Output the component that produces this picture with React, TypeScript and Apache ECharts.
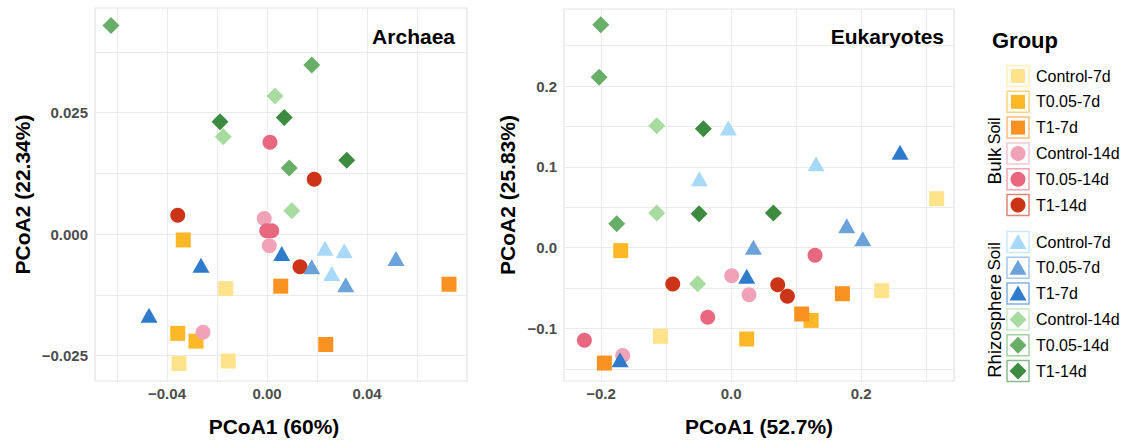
import React, { useEffect, useRef } from "react";
import * as echarts from "echarts";

const FONT = "'Liberation Sans', Arial, Helvetica, sans-serif";

// ---- groups ----
const groupLabels = ["Control-7d", "T0.05-7d", "T1-7d", "Control-14d", "T0.05-14d", "T1-14d"];
const bulkColors = ["#FEE38B", "#FDB827", "#FA9222", "#F0A3B7", "#E8697F", "#CC3418"];
const rhizoColors = ["#A9D9F8", "#6BA2DA", "#2E7BCB", "#A8DBA0", "#68AE68", "#3D8B40"];
const bulkShapes = ["rect", "rect", "rect", "circle", "circle", "circle"];
const rhizoShapes = ["triangle", "triangle", "triangle", "diamond", "diamond", "diamond"];

// ---- Archaea (PCoA1, PCoA2) ----
const archaeaBulkControl7d = [[-0.0165, -0.0112], [-0.0352, -0.0266], [-0.0155, -0.0261]];
const archaeaBulkT005_7d = [[-0.0335, -0.0012], [-0.0357, -0.0204], [-0.0284, -0.022]];
const archaeaBulkT1_7d = [[0.0728, -0.0103], [0.0055, -0.0107], [0.0235, -0.0227]];
const archaeaBulkControl14d = [[-0.0011, 0.0032], [0.0009, -0.0024], [-0.0256, -0.0202]];
const archaeaBulkT005_14d = [[0.0012, 0.0189], [-0.0001, 0.0007], [0.0019, 0.0007]];
const archaeaBulkT1_14d = [[-0.0357, 0.0039], [0.0189, 0.0113], [0.0132, -0.0067]];
const archaeaRhizoControl7d = [[0.0232, -0.0029], [0.0309, -0.0034], [0.0259, -0.0081]];
const archaeaRhizoT005_7d = [[0.0179, -0.0067], [0.0315, -0.0104], [0.0516, -0.005]];
const archaeaRhizoT1_7d = [[0.0059, -0.004], [-0.0264, -0.0064], [-0.0472, -0.0167]];
const archaeaRhizoControl14d = [[0.0032, 0.0284], [-0.0175, 0.02], [0.0099, 0.0048]];
const archaeaRhizoT005_14d = [[-0.0624, 0.0429], [0.0179, 0.0348], [0.0089, 0.0136]];
const archaeaRhizoT1_14d = [[-0.0188, 0.0231], [0.0069, 0.024], [0.0319, 0.0152]];

// ---- Eukaryotes (PCoA1, PCoA2) ----
const eukBulkControl7d = [[0.3164, 0.0606], [0.2318, -0.0532], [-0.1087, -0.1097]];
const eukBulkT005_7d = [[-0.1697, -0.0037], [0.1231, -0.09], [0.0241, -0.113]];
const eukBulkT1_7d = [[0.1713, -0.057], [0.1087, -0.0821], [-0.1949, -0.1428]];
const eukBulkControl14d = [[0.001, -0.0347], [0.0277, -0.0582], [-0.1667, -0.1333]];
const eukBulkT005_14d = [[0.1292, -0.0095], [-0.0359, -0.0862], [-0.2256, -0.1147]];
const eukBulkT1_14d = [[-0.0897, -0.045], [0.0718, -0.0458], [0.0867, -0.0602]];
const eukRhizoControl7d = [[-0.0042, 0.148], [-0.0488, 0.0854], [0.1308, 0.104]];
const eukRhizoT005_7d = [[0.178, 0.0272], [0.2026, 0.0111], [0.0344, 0.0004]];
const eukRhizoT1_7d = [[0.26, 0.118], [0.0241, -0.0355], [-0.1708, -0.1386]];
const eukRhizoControl14d = [[-0.1143, 0.151], [-0.1143, 0.0429], [-0.0513, -0.0446]];
const eukRhizoT005_14d = [[-0.2005, 0.276], [-0.203, 0.2108], [-0.1759, 0.0297]];
const eukRhizoT1_14d = [[-0.0426, 0.1473], [-0.0492, 0.042], [0.0651, 0.0429]];

// ---- axes / ticks ----
const archaeaXRange = [-0.0688, 0.08];
const archaeaYRange = [-0.0302, 0.0465];
const archaeaXLabels = [-0.04, 0, 0.04];
const archaeaXGrid = [-0.06, -0.04, -0.02, 0, 0.02, 0.04, 0.06];
const archaeaYLabels = [-0.025, 0, 0.025];
const archaeaYGrid = [-0.025, -0.0125, 0, 0.0125, 0.025, 0.0375];

const eukXRange = [-0.257, 0.343];
const eukYRange = [-0.165, 0.2954];
const eukXLabels = [-0.2, 0, 0.2];
const eukXGrid = [-0.2, -0.1, 0, 0.1, 0.2, 0.3];
const eukYLabels = [-0.1, 0, 0.1, 0.2];
const eukYGrid = [-0.15, -0.1, -0.05, 0, 0.05, 0.1, 0.15, 0.2, 0.25];

const panelTitles = ["Archaea", "Eukaryotes"];
const xNames = ["PCoA1 (60%)", "PCoA1 (52.7%)"];
const yNames = ["PCoA2 (22.34%)", "PCoA2 (25.83%)"];

const archaeaBulk = [archaeaBulkControl7d, archaeaBulkT005_7d, archaeaBulkT1_7d, archaeaBulkControl14d, archaeaBulkT005_14d, archaeaBulkT1_14d];
const archaeaRhizo = [archaeaRhizoControl7d, archaeaRhizoT005_7d, archaeaRhizoT1_7d, archaeaRhizoControl14d, archaeaRhizoT005_14d, archaeaRhizoT1_14d];
const eukBulk = [eukBulkControl7d, eukBulkT005_7d, eukBulkT1_7d, eukBulkControl14d, eukBulkT005_14d, eukBulkT1_14d];
const eukRhizo = [eukRhizoControl7d, eukRhizoT005_7d, eukRhizoT1_7d, eukRhizoControl14d, eukRhizoT005_14d, eukRhizoT1_14d];

const symbolSizes: Record<string, number | number[]> = {
  rect: 15,
  circle: 15,
  triangle: [17, 15],
  diamond: 17,
};

function fmt(decimals: number) {
  return (v: number) => {
    const s = Math.abs(v).toFixed(decimals);
    return v < -1e-12 ? "\u2212" + s : s;
  };
}

function fade(hex: string, a: number) {
  const r = parseInt(hex.slice(1, 3), 16);
  const g = parseInt(hex.slice(3, 5), 16);
  const b = parseInt(hex.slice(5, 7), 16);
  return `rgba(${r},${g},${b},${a})`;
}

function makeAxis(
  kind: "x" | "y",
  gridIndex: number,
  range: number[],
  labels: number[],
  grid: number[],
  decimals: number,
  name: string,
  nameGap: number,
  namePadding: number[]
) {
  return {
    type: "value",
    gridIndex,
    min: range[0],
    max: range[1],
    name,
    nameLocation: "middle",
    nameGap,
    nameTextStyle: {
      fontFamily: FONT,
      fontSize: 21,
      fontWeight: "bold",
      color: "#000",
      padding: namePadding,
    },
    axisLine: { show: false },
    axisTick: { show: false, customValues: grid },
    axisLabel: {
      customValues: labels,
      formatter: fmt(decimals),
      fontFamily: FONT,
      fontSize: 15,
      fontWeight: "bold",
      color: "#4D4D4D",
      margin: kind === "x" ? 5 : 7,
      showMinLabel: true,
      showMaxLabel: true,
    },
    splitLine: { show: true, lineStyle: { color: "#EBEBEB", width: 1 } },
  };
}

export default function App() {
  const ref = useRef<HTMLDivElement>(null);

  useEffect(() => {
    if (!ref.current) return;
    const chart = echarts.init(ref.current, undefined, { renderer: "svg" });

    const series: any[] = [];
    const panels = [
      { bulk: archaeaBulk, rhizo: archaeaRhizo },
      { bulk: eukBulk, rhizo: eukRhizo },
    ];
    panels.forEach((p, pi) => {
      const addSoil = (sets: number[][][], colors: string[], shapes: string[], soil: string) => {
        sets.forEach((data, gi) => {
          series.push({
            type: "scatter",
            name: `${soil} ${groupLabels[gi]}`,
            xAxisIndex: pi,
            yAxisIndex: pi,
            data,
            symbol: shapes[gi],
            symbolSize: symbolSizes[shapes[gi]],
            itemStyle: { color: colors[gi], opacity: 1 },
            emphasis: { disabled: true },
          });
        });
      };
      addSoil(p.bulk, bulkColors, bulkShapes, "Bulk Soil");
      addSoil(p.rhizo, rhizoColors, rhizoShapes, "Rhizosphere Soil");
    });

    // ---- legend (drawn as graphic) ----
    const graphic: any[] = [];
    graphic.push({
      type: "text",
      x: 992,
      y: 40,
      style: { text: "Group", fontFamily: FONT, fontSize: 22, fontWeight: "bold", fill: "#000", verticalAlign: "middle" },
    });
    const boxCx = 1018;
    const addLegend = (colors: string[], shapes: string[], top: number) => {
      groupLabels.forEach((lab, i) => {
        const cy = top + i * 25.8;
        const c = colors[i];
        graphic.push({
          type: "rect",
          shape: { x: boxCx - 11, y: cy - 10.5, width: 22, height: 21 },
          style: { fill: "#fff", stroke: fade(c, 0.6), lineWidth: 1.5 },
        });
        const sh = shapes[i];
        if (sh === "rect") {
          graphic.push({ type: "rect", shape: { x: boxCx - 7, y: cy - 7, width: 14, height: 14 }, style: { fill: c } });
        } else if (sh === "circle") {
          graphic.push({ type: "circle", shape: { cx: boxCx, cy, r: 7.5 }, style: { fill: c } });
        } else if (sh === "triangle") {
          graphic.push({
            type: "polygon",
            shape: { points: [[boxCx, cy - 8], [boxCx + 8.5, cy + 7], [boxCx - 8.5, cy + 7]] },
            style: { fill: c },
          });
        } else {
          graphic.push({
            type: "polygon",
            shape: { points: [[boxCx, cy - 8.5], [boxCx + 8.5, cy], [boxCx, cy + 8.5], [boxCx - 8.5, cy]] },
            style: { fill: c },
          });
        }
        graphic.push({
          type: "text",
          x: 1036,
          y: cy,
          style: { text: lab, fontFamily: FONT, fontSize: 16, fill: "#000", verticalAlign: "middle" },
        });
      });
    };
    addLegend(bulkColors, bulkShapes, 76);
    addLegend(rhizoColors, rhizoShapes, 242);

    graphic.push({
      type: "text",
      x: 994,
      y: 151,
      rotation: Math.PI / 2,
      style: {
        text: "{a|Bulk} {b|Soil}",
        align: "center",
        verticalAlign: "middle",
        fill: "#000",
        rich: {
          a: { fontFamily: FONT, fontSize: 19, fill: "#000" },
          b: { fontFamily: FONT, fontSize: 16, fill: "#000" },
        },
      },
    });
    graphic.push({
      type: "text",
      x: 994,
      y: 310,
      rotation: Math.PI / 2,
      style: {
        text: "{a|Rhizosphere} {b|Soil}",
        align: "center",
        verticalAlign: "middle",
        fill: "#000",
        rich: {
          a: { fontFamily: FONT, fontSize: 18.5, fill: "#000" },
          b: { fontFamily: FONT, fontSize: 17, fill: "#000" },
        },
      },
    });

    const option: any = {
      animation: false,
      backgroundColor: "#fff",
      title: [
        {
          text: panelTitles[0],
          right: 1127 - 455,
          top: 26,
          padding: 0,
          textStyle: { fontFamily: FONT, fontSize: 21, fontWeight: "bold", color: "#000" },
        },
        {
          text: panelTitles[1],
          right: 1127 - 944,
          top: 26,
          padding: 0,
          textStyle: { fontFamily: FONT, fontSize: 21, fontWeight: "bold", color: "#000" },
        },
      ],
      grid: [
        { left: 95, top: 8, width: 372, height: 373, show: true, borderColor: "#E3E3E3", borderWidth: 1.2, backgroundColor: "transparent" },
        { left: 564, top: 9, width: 390, height: 372, show: true, borderColor: "#E3E3E3", borderWidth: 1.2, backgroundColor: "transparent" },
      ],
      xAxis: [
        makeAxis("x", 0, archaeaXRange, archaeaXLabels, archaeaXGrid, 2, xNames[0], 35, [0, 14, 0, 0]),
        makeAxis("x", 1, eukXRange, eukXLabels, eukXGrid, 1, xNames[1], 35, [0, 0, 0, 0]),
      ],
      yAxis: [
        makeAxis("y", 0, archaeaYRange, archaeaYLabels, archaeaYGrid, 3, yNames[0], 62, [0, 0, 0, 0]),
        makeAxis("y", 1, eukYRange, eukYLabels, eukYGrid, 1, yNames[1], 46, [0, 0, 0, 0]),
      ],
      graphic,
      series,
    };
    chart.setOption(option);
    return () => chart.dispose();
  }, []);

  return (
    <div
      ref={ref}
      style={{ position: "fixed", left: 0, top: 0, width: 1127, height: 443, background: "#fff" }}
    />
  );
}
